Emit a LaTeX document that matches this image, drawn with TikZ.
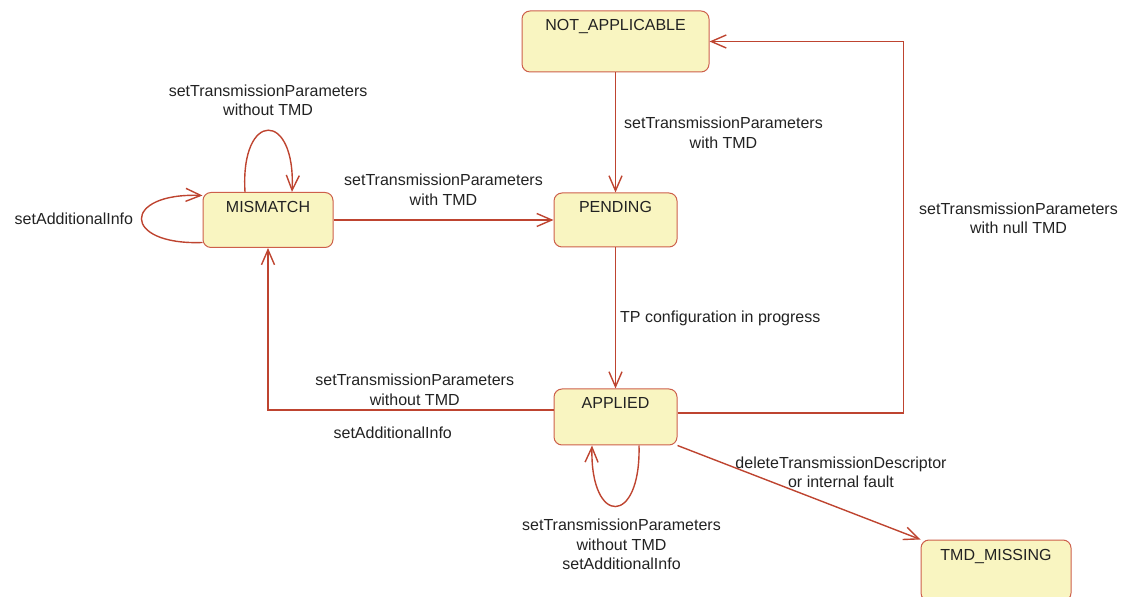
\documentclass[tikz,border=0pt]{standalone}
\usepackage{fontspec}
\setmainfont{Liberation Sans}
\usetikzlibrary{arrows.meta,positioning}
\definecolor{lineRed}{RGB}{190,68,48}
\definecolor{boxRed}{RGB}{205,95,75}
\definecolor{stateFill}{RGB}{249,245,193}
\definecolor{txtGray}{RGB}{34,34,34}
\tikzstyle{stateNode} = [rectangle, rounded corners=4pt, draw=boxRed, fill=stateFill, line width=0.5pt, text=txtGray, inner sep=2pt, text height=8pt, font=\fontsize{8}{9.8}\selectfont]
\tikzstyle{lbl} = [text=txtGray, align=center, inner sep=2pt, font=\fontsize{8}{9.8}\selectfont]
\tikzstyle{arrowR} = [line width=0.7pt, draw=lineRed, -{Straight Barb[length=7.5pt,width=6.5pt]}]

\begin{document}
\begin{tikzpicture}[node distance=98.5pt]
    \useasboundingbox (0,0) rectangle (563.5pt,-298.5pt);
    \node (pending) [stateNode, minimum width=61.5pt, text depth=15pt] at (307.75pt,-110pt) {PENDING};
    \node (na) [stateNode, above of=pending, yshift=-9.25pt, minimum width=93.5pt, text depth=18.5pt] {NOT\_APPLICABLE};
    \node (applied) [stateNode, below of=pending, minimum width=61.5pt, text depth=16pt] {APPLIED};
    \node (mismatch) [stateNode, left of=pending, xshift=-75.25pt, minimum width=65pt, text depth=15.5pt] {MISMATCH};
    \node (missing) [stateNode, right of=applied, xshift=91.75pt, yshift=-76.75pt, minimum width=75pt, text depth=18.5pt] {TMD\_MISSING};

    \draw [arrowR] (na) -- node[lbl, right, xshift=2pt] {setTransmissionParameters\\with TMD} (pending);
    \draw [arrowR] (mismatch.east) -- node[lbl, above, yshift=5pt] {setTransmissionParameters\\with TMD} (pending.west);
    \draw [arrowR] (pending) -- node[lbl, right] {TP configuration in progress} (applied);

    \draw [arrowR] ([yshift=3.5pt]applied.west) -| node[lbl, pos=0.25, above, xshift=2pt] {setTransmissionParameters\\without TMD} node[lbl, pos=0.25, below, xshift=-9pt, yshift=-6pt] {setAdditionalInfo} (mismatch.south);
    \draw [arrowR] ([yshift=2pt]applied.east) -- ++(113pt,0) |- node[lbl, pos=0.25, right, xshift=5.5pt, yshift=4.5pt] {setTransmissionParameters\\with null TMD} (na.east);
    \draw [arrowR] (applied.south east) -- node[lbl, above, xshift=21pt] {deleteTransmissionDescriptor\\or internal fault} (missing.north west);

    % self transitions
    \draw [arrowR] ([xshift=-11.5pt]mismatch.north) .. controls +(-2.5pt,41pt) and +(2pt,41pt) .. node[lbl, above, yshift=5pt] {setTransmissionParameters\\without TMD} ([xshift=12pt]mismatch.north);
    \draw [arrowR] ([yshift=-11.25pt]mismatch.west) .. controls +(-40.5pt,-1.5pt) and +(-40.5pt,1.5pt) .. node[lbl, left, xshift=-2pt] {setAdditionalInfo} ([yshift=12.25pt]mismatch.west);
    \draw [arrowR] ([xshift=11.75pt]applied.south) .. controls +(1pt,-40.5pt) and +(-1pt,-40.5pt) .. node[lbl, below, xshift=3pt, yshift=-4pt] {setTransmissionParameters\\without TMD\\setAdditionalInfo} ([xshift=-11.75pt]applied.south);
\end{tikzpicture}
\end{document}
